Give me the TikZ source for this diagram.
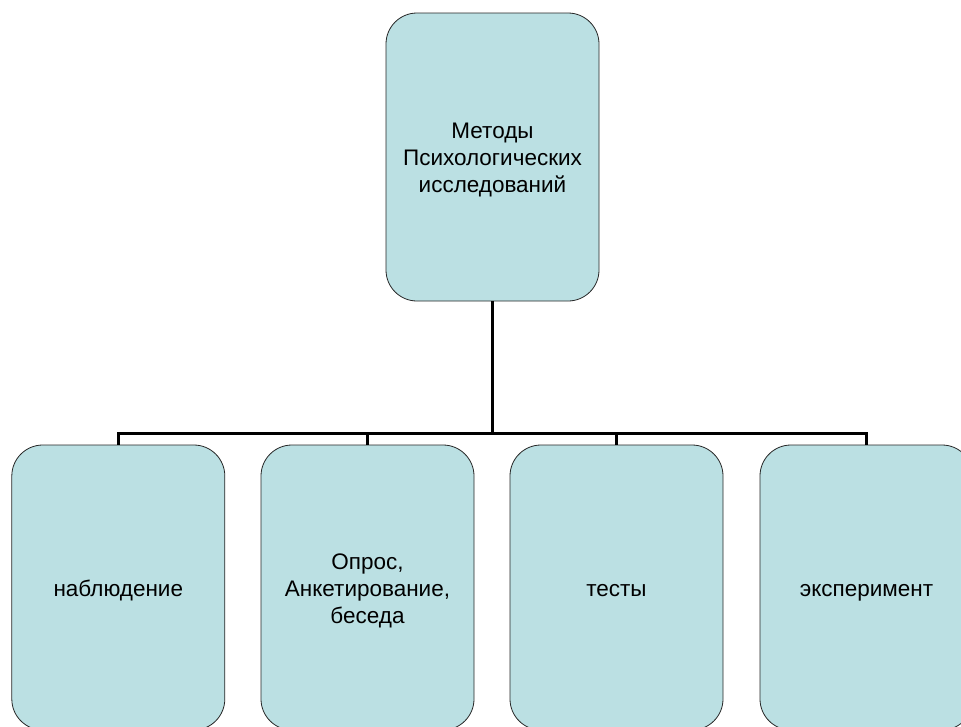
\documentclass[tikz,border=0pt]{standalone}
\usepackage{fontspec}
\setmainfont{Liberation Sans}
\begin{document}
\begin{tikzpicture}[x=1pt,y=1pt,
  box/.style={draw=black!85, line width=0.8pt, fill=boxfill, rounded corners=31pt,
    minimum width=213pt, inner sep=0pt},
  txt/.style={align=center, inner sep=0pt, font=\fontsize{22.5}{27}\selectfont},
  link/.style={draw=black, line width=2.6pt}]
\definecolor{boxfill}{HTML}{BBE0E3}
\useasboundingbox (0,0) rectangle (961,-726);
\node[box, minimum height=288pt] (top) at (492.5,-157) {};
\node[box, minimum height=285pt] (b1) at (118.3,-587.5) {};
\node[box, minimum height=285pt] (b2) at (367.5,-587.5) {};
\node[box, minimum height=285pt] (b3) at (616.5,-587.5) {};
\node[box, minimum height=285pt] (b4) at (866.5,-587.5) {};
\node[txt] (ttop) at ([yshift=-3pt]top.center) {\strut Методы\\\strut Психологических\\\strut исследований};
\node[txt] (t1) at ([yshift=-4pt]b1.center) {\strut наблюдение};
\node[txt] (t2) at ([yshift=-4pt]b2.center) {\strut Опрос,\\\strut Анкетирование,\\\strut беседа};
\node[txt] (t3) at ([yshift=-4pt]b3.center) {\strut тесты};
\node[txt] (t4) at ([yshift=-4pt]b4.center) {\strut эксперимент};
\coordinate (bar) at (492.5,-433.3);
\draw[link] (top.south) -- (bar);
\draw[link, line join=miter] (b1.north) |- (bar) -| (b4.north);
\draw[link] (b2.north) -- (b2.north |- bar);
\draw[link] (b3.north) -- (b3.north |- bar);
\end{tikzpicture}
\end{document}
